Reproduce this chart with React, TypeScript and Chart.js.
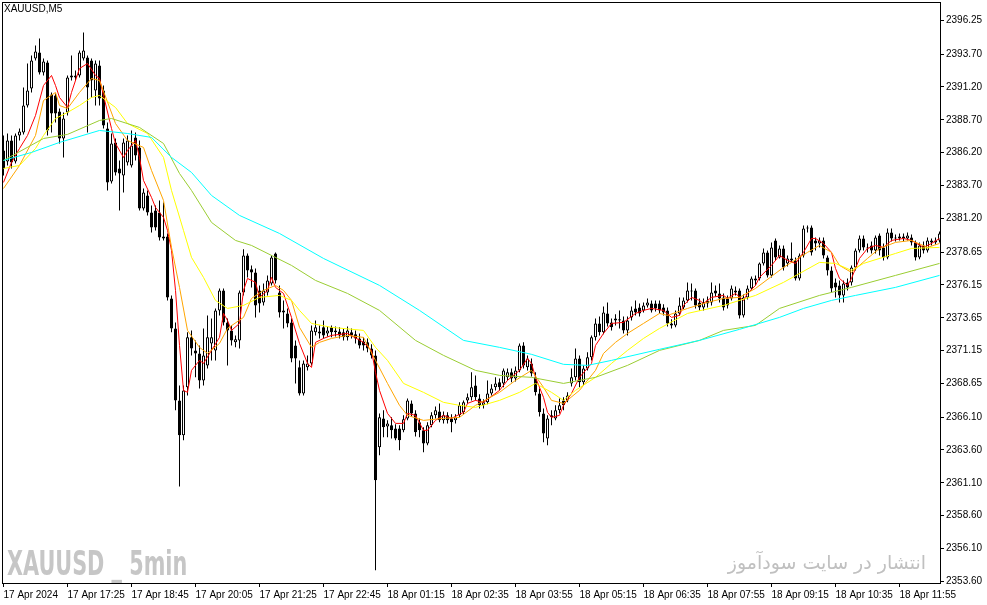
import React, { useEffect, useRef } from "react";
import { Chart, registerables } from "chart.js";

Chart.register(...registerables);

// ---- OHLC of the 5-minute candles (bar index 0..234) ----
const opens = [
  2386.37, 2385.53, 2387.13, 2385.53, 2387.51, 2387.74, 2389.79, 2391.08, 2393.36, 2393.82,
  2392.30, 2393.06, 2390.63, 2390.55, 2389.33, 2387.28, 2389.26, 2391.92, 2391.92, 2392.07,
  2393.36, 2393.44, 2393.21, 2390.93, 2392.83, 2390.93, 2388.04, 2384.01, 2386.98, 2385.00,
  2384.47, 2385.46, 2385.23, 2387.36, 2386.60, 2381.96, 2382.95, 2381.66, 2381.81, 2381.66,
  2379.83, 2379.83, 2375.12, 2372.84, 2367.37, 2364.71, 2368.36, 2372.16, 2371.17, 2370.94,
  2368.89, 2370.03, 2371.70, 2371.17, 2374.21, 2375.73, 2373.30, 2372.69, 2371.78, 2371.93,
  2375.58, 2378.39, 2377.33, 2377.10, 2375.73, 2374.82, 2375.58, 2376.26, 2378.54, 2375.58,
  2374.21, 2373.98, 2373.30, 2371.55, 2369.88, 2367.90, 2369.88, 2370.18, 2372.54, 2372.61,
  2372.92, 2372.46, 2372.92, 2372.54, 2372.61, 2372.54, 2372.16, 2372.54, 2372.39, 2372.08,
  2371.85, 2371.78, 2371.32, 2370.79, 2363.80, 2366.00, 2365.39, 2365.47, 2365.24, 2365.24,
  2365.09, 2366.00, 2367.14, 2366.38, 2365.70, 2365.09, 2364.10, 2365.47, 2366.23, 2366.53,
  2365.85, 2366.23, 2366.00, 2365.85, 2366.23, 2366.46, 2367.37, 2367.60, 2368.51, 2367.52,
  2366.99, 2367.22, 2367.90, 2368.36, 2368.74, 2368.66, 2369.12, 2369.50, 2369.04, 2369.65,
  2371.55, 2369.88, 2370.18, 2369.12, 2367.90, 2366.38, 2364.48, 2366.23, 2366.00, 2366.61,
  2367.37, 2367.37, 2368.66, 2369.12, 2370.56, 2368.74, 2369.80, 2370.64, 2372.16, 2373.22,
  2372.54, 2373.98, 2373.30, 2373.60, 2373.53, 2373.45, 2372.69, 2373.68, 2374.36, 2374.44,
  2374.21, 2374.59, 2374.74, 2374.74, 2374.74, 2374.44, 2374.21, 2373.22, 2373.07, 2373.98,
  2374.44, 2374.97, 2375.73, 2375.73, 2374.82, 2374.44, 2374.97, 2374.82, 2375.73, 2375.50,
  2375.20, 2375.12, 2375.12, 2375.73, 2375.73, 2373.83, 2375.20, 2375.88, 2376.49, 2376.64,
  2377.78, 2378.62, 2376.87, 2379.53, 2378.24, 2378.92, 2377.78, 2378.01, 2378.01, 2376.64,
  2378.39, 2380.44, 2380.52, 2379.53, 2379.30, 2379.53, 2378.24, 2377.25, 2376.34, 2376.11,
  2375.35, 2376.34, 2376.34, 2377.48, 2378.77, 2379.68, 2379.00, 2379.15, 2378.77, 2379.91,
  2379.00, 2378.24, 2380.14, 2379.68, 2379.68, 2379.83, 2379.68, 2379.76, 2379.38, 2378.24,
  2379.15, 2378.77, 2379.53, 2379.38, 2379.53,
];

const highs = [
  2387.51, 2387.66, 2387.51, 2387.66, 2388.04, 2391.16, 2392.98, 2393.59, 2394.35, 2394.88,
  2393.36, 2393.21, 2390.78, 2390.70, 2389.56, 2389.26, 2392.07, 2393.59, 2392.45, 2393.97,
  2395.34, 2393.59, 2393.36, 2393.21, 2393.21, 2391.31, 2388.50, 2387.66, 2387.28, 2385.61,
  2387.28, 2387.51, 2387.89, 2387.74, 2387.13, 2383.48, 2383.33, 2382.19, 2382.19, 2382.57,
  2382.42, 2380.06, 2375.35, 2373.30, 2368.51, 2368.51, 2372.54, 2372.69, 2371.93, 2371.55,
  2372.84, 2373.83, 2373.60, 2374.36, 2375.88, 2375.88, 2373.60, 2373.07, 2372.31, 2375.73,
  2378.85, 2378.54, 2377.63, 2377.40, 2376.11, 2376.26, 2376.87, 2378.39, 2378.62, 2376.11,
  2374.97, 2374.36, 2373.60, 2371.93, 2370.41, 2370.41, 2370.79, 2373.07, 2373.45, 2373.07,
  2373.45, 2372.99, 2373.07, 2372.99, 2372.92, 2372.84, 2372.99, 2372.84, 2372.69, 2372.46,
  2372.16, 2372.08, 2371.63, 2371.17, 2366.38, 2366.61, 2365.85, 2366.08, 2365.55, 2365.47,
  2366.23, 2367.52, 2367.37, 2366.61, 2366.00, 2365.32, 2365.70, 2366.46, 2366.91, 2367.14,
  2366.53, 2366.46, 2366.31, 2366.31, 2367.22, 2367.37, 2367.90, 2369.50, 2369.27, 2367.83,
  2367.45, 2368.89, 2368.59, 2369.12, 2369.04, 2369.80, 2369.80, 2369.80, 2369.95, 2371.70,
  2371.78, 2370.79, 2370.56, 2369.50, 2368.28, 2366.76, 2366.23, 2366.61, 2366.99, 2367.52,
  2367.60, 2367.98, 2369.80, 2371.32, 2370.79, 2370.03, 2371.02, 2372.31, 2373.60, 2373.75,
  2374.51, 2374.82, 2373.60, 2373.91, 2374.21, 2373.75, 2373.75, 2374.51, 2374.97, 2374.74,
  2374.82, 2375.12, 2374.97, 2374.97, 2374.97, 2374.67, 2374.44, 2373.53, 2374.21, 2375.20,
  2375.20, 2376.34, 2376.26, 2375.88, 2375.12, 2375.12, 2375.27, 2376.34, 2376.11, 2376.26,
  2375.50, 2375.35, 2376.11, 2376.03, 2375.88, 2375.42, 2376.11, 2376.79, 2376.87, 2377.86,
  2378.92, 2378.77, 2379.38, 2379.68, 2379.15, 2379.15, 2378.39, 2379.38, 2378.24, 2378.54,
  2380.67, 2380.67, 2380.67, 2379.76, 2379.76, 2379.76, 2378.39, 2377.55, 2376.64, 2376.49,
  2376.49, 2376.64, 2377.63, 2378.92, 2379.91, 2379.91, 2379.30, 2379.45, 2379.91, 2380.06,
  2379.30, 2380.44, 2380.44, 2379.99, 2380.06, 2380.06, 2380.14, 2379.99, 2379.53, 2379.38,
  2379.45, 2379.76, 2379.68, 2379.76, 2380.21,
];

const lows = [
  2384.47, 2385.23, 2385.00, 2385.38, 2387.13, 2387.59, 2389.64, 2390.78, 2393.21, 2392.15,
  2392.07, 2387.51, 2387.74, 2388.50, 2386.90, 2385.84, 2389.03, 2391.69, 2391.69, 2391.92,
  2393.21, 2387.74, 2390.40, 2389.79, 2389.79, 2388.04, 2383.33, 2383.86, 2384.47, 2381.81,
  2383.18, 2385.23, 2385.08, 2385.61, 2381.81, 2381.81, 2381.43, 2380.14, 2380.29, 2379.53,
  2379.53, 2374.97, 2372.54, 2366.61, 2360.83, 2364.33, 2367.75, 2370.79, 2369.12, 2368.28,
  2368.51, 2369.80, 2370.41, 2370.41, 2373.83, 2373.07, 2370.03, 2371.55, 2371.40, 2371.32,
  2375.35, 2376.72, 2375.96, 2373.68, 2374.06, 2374.59, 2375.35, 2376.11, 2376.26, 2373.68,
  2372.84, 2372.92, 2370.26, 2368.66, 2367.75, 2367.75, 2369.65, 2370.03, 2372.31, 2372.08,
  2372.08, 2372.23, 2372.16, 2372.23, 2372.08, 2371.93, 2371.93, 2372.08, 2371.70, 2371.32,
  2371.17, 2371.02, 2370.56, 2354.45, 2363.19, 2364.56, 2364.56, 2364.48, 2364.33, 2363.57,
  2364.94, 2365.85, 2366.15, 2364.63, 2364.56, 2363.42, 2363.95, 2365.32, 2366.00, 2365.70,
  2365.62, 2365.62, 2364.94, 2365.62, 2366.08, 2366.31, 2367.14, 2367.37, 2367.37, 2366.76,
  2366.76, 2367.07, 2367.75, 2368.13, 2368.13, 2368.36, 2368.89, 2368.74, 2368.81, 2369.50,
  2369.80, 2369.65, 2369.19, 2367.75, 2366.15, 2364.18, 2363.95, 2365.47, 2365.85, 2366.38,
  2366.61, 2367.22, 2368.43, 2368.89, 2368.36, 2368.51, 2369.65, 2370.41, 2371.93, 2372.31,
  2372.39, 2372.99, 2372.69, 2373.07, 2372.84, 2372.46, 2372.31, 2373.45, 2373.83, 2373.75,
  2374.06, 2374.44, 2374.06, 2374.13, 2373.98, 2373.83, 2372.99, 2372.84, 2372.92, 2373.83,
  2374.29, 2374.82, 2374.97, 2374.36, 2374.21, 2374.21, 2374.44, 2374.59, 2375.27, 2374.82,
  2374.21, 2374.36, 2374.97, 2375.35, 2373.60, 2373.68, 2375.04, 2375.73, 2376.11, 2376.49,
  2377.63, 2376.72, 2376.72, 2378.01, 2378.16, 2377.25, 2377.55, 2377.86, 2376.49, 2376.49,
  2378.24, 2380.14, 2378.39, 2378.77, 2379.00, 2378.16, 2376.87, 2375.58, 2375.20, 2374.82,
  2374.82, 2375.73, 2376.11, 2377.25, 2378.62, 2378.77, 2378.62, 2378.54, 2378.54, 2378.39,
  2378.01, 2378.09, 2379.45, 2379.45, 2379.53, 2379.45, 2379.53, 2379.15, 2378.01, 2378.09,
  2378.54, 2378.62, 2379.15, 2379.22, 2379.38,
];

const closes = [
  2385.00, 2387.13, 2385.46, 2387.51, 2387.81, 2389.79, 2390.93, 2393.21, 2393.89, 2392.30,
  2393.13, 2387.89, 2389.18, 2389.18, 2387.28, 2388.80, 2391.92, 2392.07, 2392.07, 2393.82,
  2393.97, 2391.16, 2391.69, 2392.98, 2390.32, 2388.27, 2383.94, 2386.90, 2384.70, 2384.62,
  2386.98, 2387.13, 2386.75, 2385.99, 2381.96, 2383.18, 2381.66, 2380.52, 2380.52, 2379.76,
  2379.68, 2375.20, 2372.84, 2367.37, 2364.71, 2368.13, 2372.16, 2371.32, 2370.94, 2368.89,
  2370.79, 2372.16, 2372.16, 2374.21, 2375.73, 2373.30, 2372.69, 2371.93, 2372.01, 2375.58,
  2378.39, 2377.25, 2377.10, 2374.59, 2374.74, 2375.73, 2376.49, 2378.24, 2376.49, 2374.06,
  2374.06, 2373.22, 2370.56, 2370.56, 2367.90, 2370.18, 2370.18, 2372.69, 2372.92, 2372.46,
  2372.31, 2372.69, 2372.54, 2372.69, 2372.31, 2372.16, 2372.69, 2372.31, 2372.08, 2371.55,
  2371.55, 2371.32, 2370.79, 2361.29, 2366.08, 2365.32, 2365.62, 2365.09, 2364.48, 2364.33,
  2365.93, 2367.37, 2366.38, 2364.94, 2365.09, 2364.10, 2365.47, 2366.23, 2366.61, 2365.85,
  2366.23, 2365.85, 2365.70, 2366.08, 2366.99, 2367.22, 2367.60, 2368.36, 2367.60, 2366.99,
  2367.22, 2367.90, 2368.28, 2368.66, 2368.36, 2369.65, 2369.50, 2369.04, 2369.65, 2371.55,
  2370.03, 2370.56, 2369.42, 2367.98, 2366.46, 2364.86, 2366.00, 2366.08, 2366.61, 2366.99,
  2366.99, 2367.75, 2369.12, 2370.56, 2368.74, 2369.80, 2370.64, 2372.16, 2373.22, 2372.54,
  2374.06, 2373.22, 2372.92, 2373.45, 2373.45, 2372.69, 2373.45, 2374.21, 2374.06, 2373.98,
  2374.59, 2374.82, 2374.21, 2374.36, 2374.21, 2374.06, 2373.22, 2373.07, 2373.98, 2374.59,
  2374.97, 2375.73, 2375.65, 2374.59, 2374.44, 2374.82, 2374.74, 2375.58, 2375.50, 2375.12,
  2374.44, 2374.59, 2375.88, 2375.58, 2373.83, 2375.20, 2375.88, 2376.64, 2376.64, 2377.78,
  2378.62, 2376.87, 2379.00, 2378.24, 2378.92, 2377.48, 2378.16, 2378.16, 2376.64, 2378.39,
  2380.44, 2380.52, 2378.62, 2379.30, 2379.53, 2378.39, 2377.25, 2375.88, 2375.96, 2375.35,
  2376.26, 2375.96, 2377.48, 2378.77, 2379.68, 2379.00, 2378.92, 2378.77, 2379.76, 2378.77,
  2378.24, 2380.14, 2379.68, 2379.76, 2379.83, 2379.68, 2379.91, 2379.38, 2378.24, 2379.15,
  2378.77, 2379.53, 2379.38, 2379.53, 2380.06,
];

// ---- moving-average lines, sampled at bar indices ----
const redIdx = [0, 2, 4, 6, 8, 10, 12, 13, 14, 16, 17, 19, 21, 23, 24, 25, 27, 28, 30, 31, 33, 34, 35, 37, 38, 40, 41, 42, 43, 44, 45, 46, 47, 49, 50, 52, 54, 55, 56, 57, 59, 60, 61, 63, 64, 66, 67, 68, 70, 72, 74, 76, 77, 78, 80, 82, 86, 90, 92, 93, 94, 96, 98, 100, 101, 103, 105, 106, 108, 110, 112, 115, 116, 118, 120, 124, 126, 129, 131, 132, 133, 135, 136, 137, 139, 140, 142, 144, 147, 148, 150, 152, 155, 158, 160, 162, 165, 167, 169, 170, 172, 174, 175, 177, 180, 181, 183, 185, 186, 188, 189, 192, 194, 196, 198, 200, 202, 203, 205, 207, 208, 209, 211, 212, 214, 216, 218, 220, 222, 225, 227, 230, 232, 234];
const redVal = [2383.94, 2385.46, 2386.52, 2387.51, 2389.03, 2391.31, 2392.07, 2391.31, 2390.40, 2389.64, 2390.78, 2392.60, 2392.98, 2392.07, 2391.84, 2390.55, 2388.04, 2386.90, 2385.84, 2386.37, 2387.13, 2385.84, 2384.09, 2382.80, 2382.04, 2381.28, 2380.29, 2378.77, 2375.73, 2371.55, 2368.13, 2367.98, 2369.65, 2370.41, 2370.18, 2371.17, 2372.16, 2373.98, 2373.45, 2372.69, 2373.22, 2375.73, 2376.64, 2376.34, 2375.20, 2375.73, 2376.72, 2375.96, 2375.50, 2373.68, 2371.70, 2370.18, 2369.88, 2371.78, 2372.08, 2372.31, 2372.46, 2371.78, 2371.17, 2369.50, 2368.13, 2366.38, 2365.62, 2365.62, 2366.38, 2366.23, 2365.09, 2365.09, 2365.85, 2366.23, 2366.00, 2366.46, 2367.14, 2367.37, 2367.22, 2368.13, 2368.89, 2369.65, 2370.56, 2370.18, 2369.12, 2367.60, 2366.46, 2366.08, 2366.23, 2366.99, 2367.90, 2369.12, 2370.18, 2371.55, 2372.46, 2373.22, 2373.30, 2373.98, 2374.21, 2374.36, 2374.21, 2373.68, 2373.83, 2374.59, 2375.20, 2374.97, 2374.74, 2375.20, 2375.35, 2375.12, 2375.50, 2374.97, 2375.50, 2376.11, 2376.72, 2377.63, 2378.39, 2378.01, 2377.78, 2378.62, 2379.68, 2379.68, 2379.30, 2378.62, 2377.40, 2376.64, 2376.11, 2376.64, 2378.16, 2378.92, 2379.15, 2379.00, 2379.53, 2379.68, 2379.53, 2379.00, 2379.30, 2379.68];

const orangeIdx = [0, 4, 8, 10, 13, 14, 16, 19, 22, 24, 28, 31, 35, 37, 40, 42, 44, 46, 49, 51, 54, 56, 60, 62, 65, 68, 70, 72, 74, 77, 79, 82, 86, 90, 93, 96, 99, 101, 105, 110, 114, 118, 124, 128, 132, 135, 137, 140, 144, 148, 150, 153, 156, 160, 164, 166, 171, 176, 180, 184, 188, 195, 201, 204, 207, 209, 212, 216, 219, 223, 227, 231, 234];
const orangeVal = [2383.48, 2385.23, 2387.51, 2390.17, 2390.78, 2389.79, 2389.56, 2390.78, 2391.84, 2391.69, 2388.42, 2387.13, 2386.60, 2384.85, 2382.57, 2379.00, 2375.96, 2372.69, 2371.40, 2370.94, 2371.70, 2372.84, 2373.68, 2375.12, 2375.73, 2376.11, 2375.73, 2374.97, 2372.92, 2371.40, 2371.78, 2372.08, 2372.31, 2372.16, 2370.41, 2368.66, 2366.99, 2366.23, 2365.85, 2366.00, 2366.08, 2366.99, 2367.98, 2368.89, 2369.65, 2368.36, 2367.37, 2367.14, 2368.13, 2369.65, 2370.94, 2371.78, 2372.46, 2373.22, 2373.98, 2373.83, 2374.36, 2374.82, 2375.12, 2375.20, 2375.88, 2377.48, 2378.62, 2379.15, 2378.62, 2377.63, 2377.10, 2378.16, 2378.92, 2379.38, 2379.53, 2379.00, 2379.30];

const yellowIdx = [0, 4, 8, 10, 13, 16, 19, 22, 24, 28, 31, 36, 40, 42, 45, 47, 50, 53, 56, 60, 64, 69, 72, 74, 77, 82, 90, 93, 96, 100, 105, 110, 114, 118, 124, 129, 133, 137, 140, 143, 148, 152, 156, 160, 164, 171, 180, 188, 195, 204, 208, 212, 215, 223, 227, 234];
const yellowVal = [2385.00, 2385.23, 2386.52, 2387.51, 2388.80, 2389.26, 2389.79, 2390.40, 2390.55, 2389.64, 2388.42, 2387.66, 2385.84, 2383.33, 2380.29, 2378.24, 2376.72, 2374.97, 2374.36, 2374.59, 2375.20, 2375.35, 2374.97, 2374.21, 2373.22, 2372.92, 2372.69, 2371.40, 2370.41, 2368.66, 2367.98, 2367.22, 2366.99, 2366.84, 2367.37, 2367.98, 2368.66, 2367.98, 2367.37, 2368.13, 2369.12, 2370.18, 2371.17, 2372.08, 2372.84, 2373.98, 2374.59, 2375.35, 2376.34, 2377.86, 2377.78, 2377.25, 2377.78, 2378.54, 2378.92, 2379.00];

const oliveIdx = [0, 10, 16, 24, 27, 34, 40, 44, 47, 52, 58, 62, 72, 78, 86, 94, 103, 110, 118, 124, 132, 140, 148, 156, 164, 174, 180, 188, 194, 204, 212, 223, 234];
const oliveVal = [2385.61, 2387.28, 2387.59, 2388.65, 2388.80, 2388.12, 2386.90, 2384.62, 2383.33, 2380.90, 2379.53, 2379.15, 2377.63, 2376.49, 2375.50, 2374.21, 2371.93, 2370.79, 2369.65, 2369.27, 2369.12, 2368.66, 2369.12, 2370.03, 2371.17, 2371.93, 2372.69, 2373.07, 2374.36, 2375.35, 2375.96, 2376.87, 2377.78];

const cyanIdx = [0, 7, 14, 24, 31, 37, 42, 47, 52, 59, 69, 80, 94, 104, 115, 124, 132, 140, 146, 152, 164, 174, 184, 194, 200, 207, 213, 223, 234];
const cyanVal = [2385.61, 2386.22, 2386.98, 2387.89, 2387.66, 2387.36, 2385.84, 2384.70, 2382.95, 2381.43, 2380.06, 2378.16, 2376.11, 2374.21, 2371.93, 2371.40, 2370.87, 2370.11, 2370.03, 2370.41, 2371.25, 2371.93, 2372.77, 2373.68, 2374.36, 2374.97, 2375.35, 2375.96, 2376.87];

// ---- axis ticks ----
const yTicks = [2396.25, 2393.7, 2391.2, 2388.7, 2386.2, 2383.7, 2381.2, 2378.65, 2376.15, 2373.65, 2371.15, 2368.65, 2366.1, 2363.6, 2361.1, 2358.6, 2356.1, 2353.6];
const xTickLabels = [
  "17 Apr 2024", "17 Apr 17:25", "17 Apr 18:45", "17 Apr 20:05", "17 Apr 21:25",
  "17 Apr 22:45", "18 Apr 01:15", "18 Apr 02:35", "18 Apr 03:55", "18 Apr 05:15",
  "18 Apr 06:35", "18 Apr 07:55", "18 Apr 09:15", "18 Apr 10:35", "18 Apr 11:55",
];
const barsPerLabel = 16;

const FONT = '"Liberation Sans", Arial, sans-serif';

const framePlugin = {
  id: "frame",
  afterDraw(chart: any) {
    const { ctx, chartArea } = chart;
    ctx.save();
    ctx.strokeStyle = "#000";
    ctx.lineWidth = 1;
    ctx.strokeRect(chartArea.left + 0.5, chartArea.top + 0.5, chartArea.right - chartArea.left, chartArea.bottom - chartArea.top);
    ctx.restore();
  },
};

function line(idx: number[], vals: number[], color: string) {
  return {
    type: "line" as const,
    data: idx.map((x, k) => ({ x, y: vals[k] })),
    borderColor: color,
    backgroundColor: color,
    borderWidth: 1,
    pointRadius: 0,
    tension: 0,
    fill: false,
    order: 0,
  };
}

export default function App() {
  const ref = useRef<HTMLCanvasElement | null>(null);

  useEffect(() => {
    if (!ref.current) return;
    const wicks = opens.map((_, i) => ({ x: i, y: [lows[i], highs[i]] }));
    const bodies = opens.map((o, i) => ({ x: i, y: [o, closes[i]] }));
    const bodyColors = opens.map((o, i) => (closes[i] >= o ? "#ffffff" : "#000000"));

    const chart = new Chart(ref.current, {
      type: "bar",
      data: {
        datasets: [
          line(cyanIdx, cyanVal, "#00ffff") as any,
          line(oliveIdx, oliveVal, "#9acd32") as any,
          line(yellowIdx, yellowVal, "#ffff00") as any,
          line(orangeIdx, orangeVal, "#ffa500") as any,
          line(redIdx, redVal, "#ff0000") as any,
          {
            type: "bar",
            data: bodies as any,
            backgroundColor: bodyColors,
            borderColor: "#000000",
            borderWidth: 1,
            borderSkipped: false,
            grouped: false,
            categoryPercentage: 1,
            barPercentage: 0.75,
            inflateAmount: 0,
            order: 1,
          } as any,
          {
            type: "bar",
            data: wicks as any,
            backgroundColor: "#000000",
            borderWidth: 0,
            grouped: false,
            categoryPercentage: 1,
            barPercentage: 0.25,
            inflateAmount: 0,
            order: 2,
          } as any,
        ],
      },
      options: {
        animation: false,
        responsive: false,
        devicePixelRatio: 1,
        events: [],
        layout: { padding: { left: 2, top: 2, right: 0, bottom: 0 } },
        plugins: { legend: { display: false }, tooltip: { enabled: false } },
        scales: {
          x: {
            type: "linear",
            min: -0.375,
            max: 234.125,
            offset: false,
            border: { display: false },
            grid: { drawOnChartArea: false, drawTicks: true, tickLength: 4, color: "#000", offset: false },
            ticks: {
              autoSkip: false,
              maxRotation: 0,
              minRotation: 0,
              align: "start",
              padding: 2,
              color: "#000",
              font: { family: FONT, size: 10 },
              callback: (v: any) => xTickLabels[Math.round(Number(v) / barsPerLabel)] ?? "",
            },
            afterBuildTicks: (axis: any) => {
              axis.ticks = xTickLabels.map((_, k) => ({ value: k * barsPerLabel }));
            },
            afterFit: (axis: any) => {
              axis.height = 22;
              axis.paddingLeft = 0;
              axis.paddingRight = 0;
              axis.paddingTop = 0;
              axis.paddingBottom = 0;
            },
          } as any,
          y: {
            type: "linear",
            position: "right",
            min: 2353.486,
            max: 2397.6565,
            border: { display: false },
            grid: { drawOnChartArea: false, drawTicks: true, tickLength: 4, color: "#000" },
            ticks: {
              autoSkip: false,
              padding: 2,
              color: "#000",
              font: { family: FONT, size: 10 },
              callback: (v: any) => Number(v).toFixed(2),
            },
            afterBuildTicks: (axis: any) => {
              axis.ticks = yTicks.map((value) => ({ value }));
            },
            afterFit: (axis: any) => {
              axis.width = 47;
              axis.paddingTop = 0;
              axis.paddingBottom = 0;
              axis.paddingLeft = 0;
              axis.paddingRight = 0;
            },
          } as any,
        },
      },
      plugins: [framePlugin],
    });
    return () => chart.destroy();
  }, []);

  return (
    <div style={{ position: "absolute", left: 0, top: 0, width: 987, height: 605, background: "#fff", overflow: "hidden" }}>
      <canvas ref={ref} width={987} height={605} style={{ position: "absolute", left: 0, top: 0, width: 987, height: 605 }} />
      <div style={{ position: "absolute", left: 4, top: 3, font: `10px ${FONT}`, lineHeight: "12px", color: "#000", whiteSpace: "nowrap" }}>
        XAUUSD,M5
      </div>
      <div
        style={{
          position: "absolute",
          left: 7,
          top: 545,
          font: 'bold 33px "Liberation Sans Narrow", "DejaVu Sans Condensed", sans-serif',
          lineHeight: "38px",
          color: "#c6c6c6",
          whiteSpace: "pre",
          transform: "scaleX(0.70)",
          transformOrigin: "left top",
        }}
      >
        XAUUSD _ 5min
      </div>
      <div
        dir="rtl"
        style={{
          position: "absolute",
          right: 61,
          top: 548,
          font: '19px "DejaVu Sans", sans-serif',
          lineHeight: "28px",
          color: "#c0c0c0",
          whiteSpace: "nowrap",
        }}
      >
        انتشار در سایت سودآموز
      </div>
    </div>
  );
}
